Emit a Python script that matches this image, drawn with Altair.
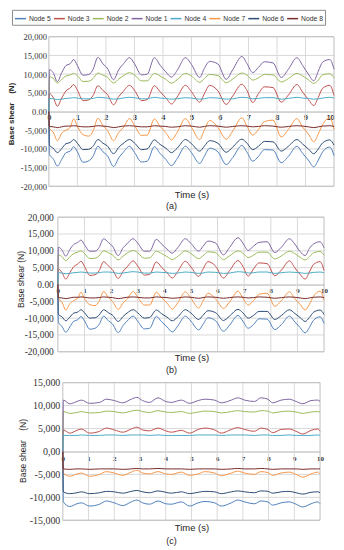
import altair as alt
import pandas as pd

NODES = ["Node 5", "Node 3", "Node 2", "Node 1", "Node 4", "Node 7", "Node 6", "Node 8"]
COLORS = ["#4F81BD", "#C0504D", "#9BBB59", "#8064A2", "#4BACC6", "#F79646", "#2C4D75", "#772C2A"]

# ---------------- panel (a) and (b): shared time samples (s) ----------------
TIME_AB = [0, 0.02, 0.15, 0.3, 0.45, 0.6, 0.75, 0.87, 1.0, 1.2,
           1.4, 1.55, 1.72, 1.9, 2.05, 2.27, 2.45, 2.6, 2.83, 3.0,
           3.25, 3.45, 3.7, 3.9, 4.1, 4.3, 4.5, 4.79, 5.0, 5.29,
           5.45, 5.64, 5.93, 6.22, 6.45, 6.77, 6.95, 7.15, 7.35, 7.56,
           7.86, 8.15, 8.4, 8.7, 8.9, 9.1, 9.29, 9.45, 9.6, 9.85,
           10.0]

A_NODE1 = [0, 11200, 10400, 8000, 10400, 12300, 12800, 13900, 12300, 9700,
           9900, 11300, 14500, 12700, 11600, 8500, 11200, 12600, 14400, 12800,
           9800, 10000, 14400, 12400, 10600, 9200, 11000, 14400, 12600, 9100,
           11500, 13400, 12700, 8600, 11200, 14700, 12800, 10400, 11800, 13300,
           13000, 9100, 11300, 14400, 12300, 10000, 8200, 10800, 13200, 13900,
           11300]
A_NODE2 = [0, 9300, 8900, 7600, 8600, 9500, 9800, 10200, 9600, 8000,
           8100, 8800, 10300, 9700, 9200, 7600, 8700, 9500, 10400, 9800,
           8200, 8200, 10200, 9500, 8600, 7600, 8500, 10200, 9500, 7800,
           8800, 9900, 9600, 7700, 8700, 10300, 9700, 8400, 9000, 9900,
           9800, 7900, 8800, 10200, 9500, 8500, 7500, 8400, 9800, 10100,
           9000]
A_NODE3 = [0, 4800, 3800, 1400, 3600, 5500, 6300, 7200, 5700, 2900,
           3100, 4300, 6900, 5600, 4600, 1800, 4000, 5300, 7000, 5700,
           2900, 3200, 6900, 5300, 3700, 2000, 3900, 7000, 5300, 2500,
           4700, 7000, 5500, 1900, 4200, 7300, 5600, 2400, 4800, 6600,
           6400, 2500, 4400, 7200, 5200, 3200, 1600, 3800, 6200, 7000,
           4300]
A_NODE4 = [0, 3500, 3400, 3200, 3300, 3500, 3600, 3700, 3600, 3400,
           3400, 3500, 3800, 3700, 3600, 3300, 3400, 3600, 3800, 3700,
           3400, 3400, 3800, 3600, 3500, 3300, 3400, 3700, 3600, 3300,
           3400, 3700, 3600, 3300, 3400, 3800, 3700, 3400, 3500, 3700,
           3700, 3300, 3500, 3800, 3600, 3500, 3300, 3400, 3600, 3800,
           3600]
A_NODE8 = [0, -4000, -4100, -4300, -4100, -3900, -3900, -3800, -3900, -4100,
           -4100, -4000, -3800, -3900, -4000, -4300, -4100, -3900, -3800, -3900,
           -4100, -4100, -3800, -3900, -4000, -4200, -4100, -3800, -3900, -4200,
           -4000, -3800, -3900, -4200, -4000, -3800, -3900, -4100, -4000, -3800,
           -3900, -4200, -4000, -3800, -3900, -4100, -4300, -4100, -3900, -3800,
           -4000]
A_NODE7 = [0, -4500, -5500, -7800, -5800, -5000, -4200, -2000, -4000, -6200,
           -6600, -5200, -1800, -3800, -5000, -7800, -5600, -4400, -1900, -3700,
           -6400, -6300, -2000, -4000, -5600, -7600, -5600, -1900, -4200, -7500,
           -5000, -2400, -4300, -7400, -5200, -1700, -4000, -6300, -4800, -2700,
           -2300, -6800, -4800, -1900, -4200, -6000, -8100, -6000, -3500, -1700,
           -4800]
A_NODE6 = [0, -9000, -9800, -11000, -9900, -8600, -8300, -7500, -8500, -10200,
           -10100, -9300, -7500, -8500, -9200, -11300, -9600, -8600, -7500, -8400,
           -10200, -10000, -7600, -8800, -9800, -11000, -9800, -7500, -8600, -10600,
           -9300, -7800, -8500, -10900, -9500, -7400, -8500, -10200, -9300, -8000,
           -8100, -10600, -9300, -7500, -8700, -10000, -11300, -10000, -8400, -7600,
           -9000]
A_NODE5 = [0, -11500, -12600, -14600, -12800, -11000, -10600, -9400, -10800, -13600,
           -13200, -12000, -9300, -10800, -11800, -14700, -12400, -11000, -9300, -10900,
           -13500, -13300, -9400, -11200, -12800, -14500, -12600, -9300, -11000, -13900,
           -12000, -9800, -10800, -14200, -12300, -9100, -10900, -13300, -12000, -10200,
           -10300, -13700, -12000, -9300, -11200, -13000, -14800, -13000, -10800, -9500,
           -11800]

B_NODE1 = [0, 11100, 10300, 8400, 10400, 11900, 12500, 13200, 11800, 9900,
           9900, 11000, 13600, 12500, 11400, 8600, 10900, 12100, 13600, 12300,
           9900, 9900, 13400, 12000, 10500, 9300, 10900, 13600, 12200, 9900,
           11300, 12900, 12300, 8800, 11000, 13900, 12300, 10100, 11400, 12500,
           12700, 9500, 11100, 13600, 12000, 9800, 8600, 10700, 12000, 12700,
           10900]
B_NODE2 = [0, 8800, 8300, 7100, 8200, 9200, 9600, 10000, 9200, 7700,
           7800, 8500, 10000, 9400, 8800, 7300, 8400, 9300, 10100, 9400,
           7800, 7900, 9900, 9200, 8300, 7400, 8300, 10000, 9200, 7700,
           8500, 9700, 9400, 7400, 8500, 10000, 9300, 8000, 8700, 9600,
           9600, 7600, 8500, 9900, 9200, 8100, 7300, 8200, 9400, 9800,
           8700]
B_NODE3 = [0, 4600, 3600, 1600, 3500, 5300, 6100, 6900, 5400, 2700,
           2900, 4100, 6800, 5500, 4400, 1800, 3900, 5200, 7000, 5500,
           2800, 3000, 6700, 5100, 3500, 1900, 3800, 6900, 5200, 2400,
           4500, 6800, 5400, 1900, 4100, 7100, 5400, 2500, 4600, 6400,
           6200, 2600, 4300, 7000, 5000, 3000, 1600, 3700, 5900, 6800,
           4200]
B_NODE4 = [0, 3500, 3400, 3200, 3300, 3500, 3600, 3700, 3600, 3400,
           3400, 3500, 3700, 3700, 3600, 3300, 3400, 3600, 3800, 3700,
           3400, 3400, 3700, 3600, 3500, 3300, 3400, 3700, 3600, 3300,
           3400, 3700, 3600, 3300, 3400, 3800, 3700, 3400, 3500, 3700,
           3700, 3300, 3500, 3700, 3600, 3500, 3300, 3400, 3600, 3700,
           3500]
B_NODE8 = [0, -3900, -4000, -4200, -4000, -3800, -3800, -3700, -3800, -4000,
           -4000, -3900, -3700, -3800, -3900, -4200, -4000, -3800, -3700, -3800,
           -4000, -4000, -3700, -3800, -3900, -4100, -4000, -3700, -3800, -4100,
           -3900, -3700, -3800, -4100, -3900, -3700, -3800, -4000, -3900, -3700,
           -3800, -4100, -3900, -3700, -3800, -4000, -4200, -4000, -3800, -3700,
           -3900]
B_NODE7 = [0, -4200, -5200, -7600, -5700, -4800, -4000, -2300, -4200, -6000,
           -6300, -5000, -2100, -3900, -5000, -7400, -5500, -4400, -2100, -3800,
           -6100, -6100, -2300, -4000, -5500, -7300, -5500, -2200, -4100, -7000,
           -5000, -2600, -4300, -7100, -5200, -2000, -4000, -6100, -4800, -2900,
           -2600, -6500, -4800, -2200, -4200, -5900, -7600, -5900, -3600, -2000,
           -4600]
B_NODE6 = [0, -8900, -9600, -10800, -9700, -8500, -8200, -7500, -8400, -10000,
           -9900, -9100, -7500, -8400, -9100, -11000, -9500, -8500, -7500, -8400,
           -10000, -9800, -7600, -8700, -9700, -10800, -9700, -7500, -8500, -10400,
           -9200, -7800, -8400, -10700, -9400, -7400, -8400, -10000, -9200, -8000,
           -8000, -10400, -9200, -7500, -8600, -9800, -11000, -9800, -8300, -7600,
           -8900]
B_NODE5 = [0, -11300, -12400, -14200, -12600, -10900, -10500, -9500, -10800, -13300,
           -13000, -11900, -9400, -10800, -11700, -14300, -12200, -10900, -9400, -10900,
           -13200, -13000, -9500, -11100, -12600, -14100, -12400, -9400, -10900, -13500,
           -11900, -9900, -10800, -13900, -12100, -9200, -10900, -13000, -11900, -10200,
           -10300, -13400, -11900, -9400, -11100, -12800, -14400, -12800, -10700, -9600,
           -11600]

# ---------------- panel (c) ----------------
TIME_C = [0, 0.02, 0.27, 0.55, 0.72, 1.04, 1.43, 1.69, 2.0, 2.33,
          2.66, 2.88, 3.1, 3.37, 3.7, 4.0, 4.22, 4.61, 4.93, 5.26,
          5.52, 5.9, 6.16, 6.55, 6.8, 7.07, 7.45, 7.7, 7.97, 8.16,
          8.49, 8.8, 9.07, 9.33, 9.65, 9.91, 10.0]

C_NODE1 = [0, 11200, 10400, 10900, 11200, 10500, 10700, 11400, 11100, 10600,
           11400, 11800, 11100, 10700, 11700, 10900, 10700, 11200, 10500, 11100,
           11400, 11200, 10600, 11200, 11700, 11200, 10900, 11700, 11400, 10600,
           11200, 11400, 10900, 10400, 11100, 11200, 10900]
C_NODE2 = [0, 8700, 8300, 8500, 8700, 8400, 8500, 8800, 8700, 8400,
           8800, 9000, 8700, 8500, 8900, 8600, 8500, 8700, 8300, 8600,
           8800, 8700, 8400, 8700, 8900, 8700, 8600, 8900, 8800, 8400,
           8700, 8800, 8600, 8300, 8600, 8700, 8600]
C_NODE3 = [0, 4700, 4000, 4600, 4900, 4000, 4400, 5100, 4700, 4200,
           4900, 5300, 4700, 4500, 5100, 4500, 4200, 4600, 4000, 4800,
           5100, 4700, 4000, 4800, 5200, 4800, 4400, 5100, 4800, 4100,
           4800, 4900, 4400, 3800, 4600, 4900, 4400]
C_NODE4 = [0, 3500, 3500, 3500, 3600, 3500, 3500, 3600, 3600, 3500,
           3600, 3600, 3600, 3500, 3600, 3500, 3500, 3500, 3500, 3600,
           3600, 3600, 3500, 3600, 3600, 3600, 3500, 3600, 3600, 3500,
           3500, 3600, 3500, 3500, 3500, 3600, 3500]
C_NODE8 = [0, -3800, -3900, -3800, -3800, -3900, -3800, -3800, -3800, -3900,
           -3800, -3700, -3800, -3800, -3700, -3800, -3800, -3800, -3900, -3800,
           -3800, -3800, -3900, -3800, -3700, -3800, -3800, -3700, -3800, -3900,
           -3800, -3800, -3800, -3900, -3800, -3800, -3800]
C_NODE7 = [0, -4700, -5400, -4900, -4700, -5400, -5000, -4400, -4700, -5200,
           -4500, -4100, -4700, -4900, -4400, -4900, -5000, -4500, -5200, -4900,
           -4400, -4700, -5300, -4700, -4300, -4700, -5000, -4400, -4600, -5200,
           -4700, -4500, -5000, -5600, -4900, -4500, -4900]
C_NODE6 = [0, -8800, -9200, -9000, -8800, -9200, -9000, -8700, -8800, -9100,
           -8700, -8500, -8800, -9000, -8600, -8900, -9100, -8800, -9200, -8900,
           -8700, -8800, -9200, -8800, -8600, -8800, -9000, -8600, -8700, -9100,
           -8800, -8700, -9000, -9300, -8900, -8800, -9000]
C_NODE5 = [0, -11000, -12000, -11400, -11200, -11900, -11500, -10800, -11200, -11800,
           -11000, -10600, -11200, -11500, -10800, -11400, -11500, -11000, -11900, -11200,
           -10900, -11200, -11900, -11200, -10600, -11000, -11400, -10800, -11000, -11700,
           -11200, -11000, -11500, -12100, -11400, -11000, -11400]

X_TICKS = list(range(0, 11))
X_GRID = list(range(1, 10))

SANS = "Liberation Sans, Arial, sans-serif"
SERIF = "Liberation Serif, Times New Roman, serif"
GRID = "#d9d9d9"
BORDER = "#bfbfbf"
W = 286


def long_df(time, series):
    rows = []
    for node, vals in series.items():
        assert len(vals) == len(time), node
        for t, v in zip(time, vals):
            rows.append({"t": t, "v": v, "node": node})
    return pd.DataFrame(rows)


DF_A = long_df(TIME_AB, {"Node 5": A_NODE5, "Node 3": A_NODE3, "Node 2": A_NODE2, "Node 1": A_NODE1,
                         "Node 4": A_NODE4, "Node 7": A_NODE7, "Node 6": A_NODE6, "Node 8": A_NODE8})
DF_B = long_df(TIME_AB, {"Node 5": B_NODE5, "Node 3": B_NODE3, "Node 2": B_NODE2, "Node 1": B_NODE1,
                         "Node 4": B_NODE4, "Node 7": B_NODE7, "Node 6": B_NODE6, "Node 8": B_NODE8})
DF_C = long_df(TIME_C, {"Node 5": C_NODE5, "Node 3": C_NODE3, "Node 2": C_NODE2, "Node 1": C_NODE1,
                        "Node 4": C_NODE4, "Node 7": C_NODE7, "Node 6": C_NODE6, "Node 8": C_NODE8})

LEGEND = alt.Legend(orient="none", legendX=-37, legendY=-27, direction="horizontal", columns=8,
                    title=None, symbolType="stroke", symbolSize=121, symbolStrokeWidth=1.5,
                    labelFont=SANS, labelFontSize=6.8, labelColor="#333333", labelOffset=2,
                    columnPadding=0, padding=2, strokeColor="#8c8c8c", fillColor="white")
COLOR = alt.Color("node:N", scale=alt.Scale(domain=NODES, range=COLORS), legend=LEGEND)


def panel(df, ylo, yhi, H, x0, x1, zero_txt, ylab_size, ylab_pad, ytitle, ytitle_x, ytitle_y,
          ytitle_weight, ytitle_size, xlab_font, xlab_pad, xtitle_y, last_align, tag, tag_offset):
    xs = alt.Scale(domain=[0, 10], range=[x0, x1], nice=False, zero=False)
    ys = alt.Scale(domain=[ylo, yhi], nice=False, zero=False)
    yvals = list(range(ylo, yhi + 1, 5000))
    label_expr = ("datum.value == 0 ? '%s' : (datum.value < 0 ? '-' : '') + format(abs(datum.value), ',')"
                  % zero_txt)
    x_axis = alt.Axis(
        orient="bottom", offset=-H / 2, values=X_TICKS, format="d", grid=False, ticks=False,
        domain=True, domainColor="#a6a6a6", domainWidth=1,
        labelFont=xlab_font, labelFontSize=7, labelFontWeight="bold", labelColor="#333333",
        labelPadding=xlab_pad, labelBaseline="top", labelFlush=False, labelOverlap=False,
        labelAlign={"condition": {"test": "datum.value == 10", "value": last_align}, "value": "center"},
        title="Time (s)", titleX=143, titleY=xtitle_y, titleBaseline="middle", titleAlign="center",
        titleFont=SANS, titleFontSize=9.5, titleFontWeight="normal", titleColor="#262626")
    y_axis = alt.Axis(
        orient="left", offset=-x0, values=yvals, grid=False, ticks=False, domain=False,
        labelExpr=label_expr, labelFont=SERIF, labelFontSize=ylab_size, labelColor="#333333",
        labelPadding=ylab_pad,
        title=ytitle, titleX=ytitle_x, titleY=ytitle_y, titleAngle=270, titleBaseline="middle",
        titleAlign="center", titleFont=SANS, titleFontSize=ytitle_size,
        titleFontWeight=ytitle_weight, titleColor="#262626")

    hgrid = alt.Chart(pd.DataFrame({"g": yvals})).mark_rule(color=GRID, strokeWidth=1).encode(
        y=alt.Y("g:Q", scale=ys, axis=y_axis),
        x=alt.XDatum(0, scale=xs, axis=x_axis), x2=alt.X2Datum(10))
    vgrid = alt.Chart(pd.DataFrame({"g": X_GRID})).mark_rule(color=GRID, strokeWidth=1).encode(
        x=alt.X("g:Q", scale=xs, axis=x_axis),
        y=alt.YDatum(ylo, scale=ys, axis=y_axis), y2=alt.Y2Datum(yhi))
    border = alt.Chart(pd.DataFrame({"k": [0]})).mark_rect(filled=False, stroke=BORDER, strokeWidth=1).encode(
        x=alt.XDatum(0, scale=xs, axis=x_axis), x2=alt.X2Datum(10),
        y=alt.YDatum(ylo, scale=ys, axis=y_axis), y2=alt.Y2Datum(yhi))
    lines = alt.Chart(df).mark_line(strokeWidth=1.0, interpolate="monotone").encode(
        x=alt.X("t:Q", scale=xs, axis=x_axis),
        y=alt.Y("v:Q", scale=ys, axis=y_axis),
        color=COLOR)
    return alt.layer(hgrid, vgrid, border, lines).properties(
        width=W, height=H,
        title=alt.TitleParams(tag, orient="bottom", anchor="middle", frame="group", dx=-20,
                              offset=tag_offset, font=SANS, fontSize=9, fontWeight="normal",
                              color="#262626"))


NB = "\u00a0"
pa = panel(DF_A, -20000, 20000, 150, 0, 286, "0.00", 8.5, 2.5,
           "Base shear" + NB * 4 + "(N)", -37, 77, "bold", 8, SANS, 2, 83.5, "right", "(a)", 3)
pb = panel(DF_B, -20000, 20000, 135, 9, 276, "0.00", 9.5, 4.5,
           "Base shear (N)", -37.3, 62, "normal", 8.5, SERIF, 2, 73.5, "center", "(b)", 4)
pc = panel(DF_C, -15000, 15000, 138, 14, 272, "0,00", 10, 3,
           "Base shear" + NB * 4 + "(N)", -40, 68, "normal", 8.5, SERIF, 3, 76, "center", "(c)", 5)

chart = alt.vconcat(pa, pb, pc, spacing=31, bounds="flush").properties(padding=0).configure_view(stroke=None)

chart.save("out.html", embed_options={"renderer": "svg", "actions": False})
